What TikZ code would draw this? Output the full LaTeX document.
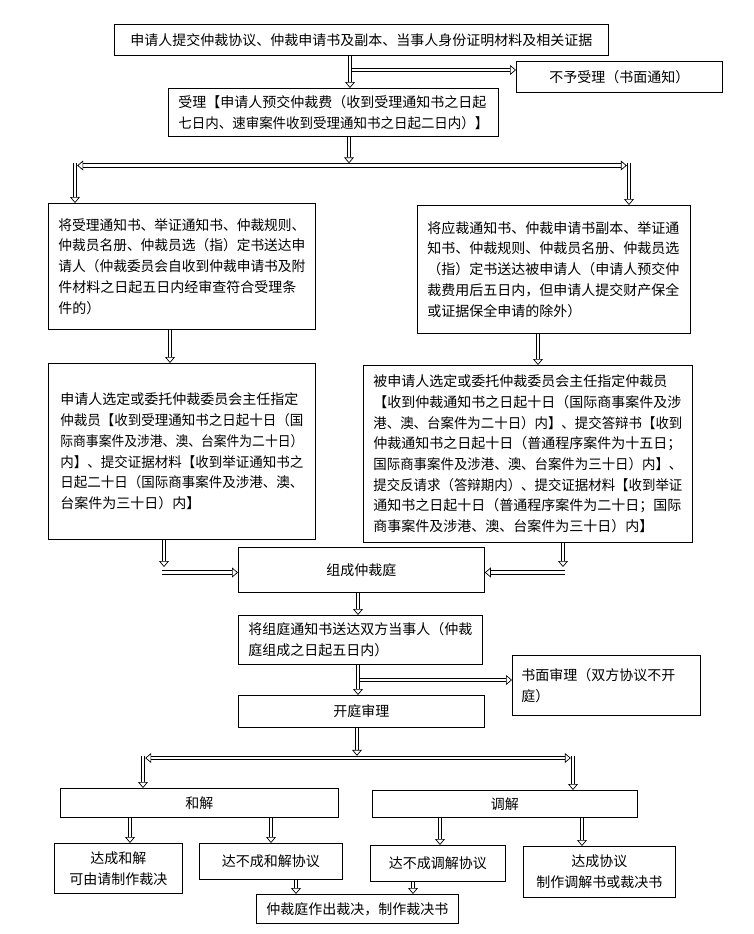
\documentclass[tikz,border=0pt]{standalone}
\usepackage{fontspec}
\usepackage{graphicx}
\newfontfamily\cjk{Noto Sans CJK SC}
\usetikzlibrary{arrows.meta}
\newcommand\fitw[2]{\sbox0{#2}\ifdim\wd0>#1\relax\resizebox{#1}{\height}{#2}\else\usebox0\fi}
\begin{document}
\begin{tikzpicture}[x=1pt,y=-1pt,
 bx/.style={draw, line width=0.8pt, anchor=north west, inner sep=0pt, font=\cjk\fontsize{14}{20.7}\selectfont},
 tipo/.tip={Triangle[open, length=6pt, width=10pt, line width=0.7pt, fill=white]},
 arr/.style={double, double distance=2.8pt, line width=0.7pt, -{tipo}},
 darr/.style={double, double distance=2.8pt, line width=0.7pt, {tipo}-{tipo}}]
\useasboundingbox[fill=white] (0,0) rectangle (754,934);

\node[bx, minimum width=494pt, minimum height=31pt] (top) at (114,24) {申请人提交仲裁协议、仲裁申请书及副本、当事人身份证明材料及相关证据};
\node[bx, minimum width=206pt, minimum height=31pt] (nope) at (516,61) {不予受理（书面通知）};
\node[bx, minimum width=330pt, minimum height=48pt, text width=310pt, align=left] (shouli) at (168,88)
 {\fitw{310pt}{受理【申请人预交仲裁费（收到受理通知书之日起}\\\fitw{310pt}{七日内、速审案件收到受理通知书之日起二日内）】}};
\node[bx, minimum width=267pt, minimum height=126pt, text width=247pt, align=left] (box3) at (48,203)
 {\fitw{247pt}{将受理通知书、举证通知书、仲裁规则、}\\\fitw{247pt}{仲裁员名册、仲裁员选（指）定书送达申}\\\fitw{247pt}{请人（仲裁委员会自收到仲裁申请书及附}\\\fitw{247pt}{件材料之日起五日内经审查符合受理条}\\件的）};
\node[bx, minimum width=273pt, minimum height=128pt, text width=253pt, align=left] (box4) at (417,205)
 {\fitw{253pt}{将应裁通知书、仲裁申请书副本、举证通}\\\fitw{253pt}{知书、仲裁规则、仲裁员名册、仲裁员选}\\\fitw{253pt}{（指）定书送达被申请人（申请人预交仲}\\\fitw{253pt}{裁费用后五日内，但申请人提交财产保全}\\或证据保全申请的除外）};
\node[bx, minimum width=267pt, minimum height=176pt, text width=243pt, align=left] (box5) at (48,363)
 {\fitw{243pt}{申请人选定或委托仲裁委员会主任指定}\\\fitw{243pt}{仲裁员【收到受理通知书之日起十日（国}\\\fitw{243pt}{际商事案件及涉港、澳、台案件为二十日）}\\\fitw{243pt}{内】、提交证据材料【收到举证通知书之}\\\fitw{243pt}{日起二十日（国际商事案件及涉港、澳、}\\台案件为三十日）内】};
\node[bx, minimum width=329pt, minimum height=177pt, text width=309pt, align=left] (box6) at (363,365)
 {\fitw{309pt}{被申请人选定或委托仲裁委员会主任指定仲裁员}\\\fitw{309pt}{【收到仲裁通知书之日起十日（国际商事案件及涉}\\\fitw{309pt}{港、澳、台案件为二十日）内】、提交答辩书【收到}\\\fitw{309pt}{仲裁通知书之日起十日（普通程序案件为十五日；}\\\fitw{309pt}{国际商事案件及涉港、澳、台案件为三十日）内】、}\\\fitw{309pt}{提交反请求（答辩期内）、提交证据材料【收到举证}\\\fitw{309pt}{通知书之日起十日（普通程序案件为二十日；国际}\\\fitw{309pt}{商事案件及涉港、澳、台案件为三十日）内】}};
\node[bx, minimum width=246pt, minimum height=45pt] (zucheng) at (238,547) {组成仲裁庭};
\node[bx, minimum width=244pt, minimum height=49pt, text width=224pt, align=left] (tongzhi) at (238,615)
 {\fitw{224pt}{将组庭通知书送达双方当事人（仲裁}\\庭组成之日起五日内）};
\node[bx, minimum width=188pt, minimum height=60pt, text width=170pt, align=left] (shumian) at (512,655)
 {书面审理（双方协议不开\\庭）};
\node[bx, minimum width=246pt, minimum height=32pt] (kaiting) at (238,695) {开庭审理};
\node[bx, minimum width=278pt, minimum height=29pt] (hejie) at (60,788) {和解};
\node[bx, minimum width=265pt, minimum height=27pt] (tiaojie) at (372,790) {调解};
\node[bx, minimum width=128pt, minimum height=50pt, align=center] (b14) at (54,843) {达成和解\\可由请制作裁决};
\node[bx, minimum width=143pt, minimum height=36pt] (b15) at (199,843) {达不成和解协议};
\node[bx, minimum width=135pt, minimum height=36pt] (b16) at (370,845) {达不成调解协议};
\node[bx, minimum width=152pt, minimum height=51pt, align=center] (b17) at (523,846) {达成协议\\制作调解书或裁决书};
\node[bx, minimum width=202pt, minimum height=29pt] (final) at (256,894) {仲裁庭作出裁决，制作裁决书};

\coordinate (a1) at (350,0);
\draw[arr] (top.south -| a1) -- (shouli.north -| a1);
\coordinate (a2) at (352,70);
\draw[arr] (a2) -- (a2 -| nope.west);
\coordinate (a3) at (349,163.3);
\draw[arr] (shouli.south -| a3) -- (a3);
\coordinate (hL) at (77.2,165.5); \coordinate (hR) at (626.8,165.5);
\draw[darr] (hL) -- (hR);
\coordinate (vL) at (75,163); \coordinate (vR) at (629,163);
\draw[arr] (vL) -- (box3.north -| vL);
\draw[arr] (vR) -- (box4.north -| vR);
\coordinate (a4) at (170,0); \draw[arr] (box3.south -| a4) -- (box5.north -| a4);
\coordinate (a5) at (538,0); \draw[arr] (box4.south -| a5) -- (box6.north -| a5);
\coordinate (a6) at (164,567); \draw[arr] (box5.south -| a6) -- (a6);
\coordinate (a7) at (162,572.5); \draw[arr] (a7) -- (a7 -| zucheng.west);
\coordinate (a8) at (563,567); \draw[arr] (box6.south -| a8) -- (a8);
\coordinate (a9) at (565,572.5); \draw[arr] (a9) -- (a9 -| zucheng.east);
\coordinate (b1) at (358,0);
\draw[arr] (zucheng.south -| b1) -- (tongzhi.north -| b1);
\draw[arr] (tongzhi.south -| b1) -- (kaiting.north -| b1);
\coordinate (b2) at (360,680); \draw[arr] (b2) -- (b2 -| shumian.west);
\coordinate (b3) at (357,755.8); \draw[arr] (kaiting.south -| b3) -- (b3);
\coordinate (gL) at (145.2,758); \coordinate (gR) at (570.8,758); \draw[darr] (gL) -- (gR);
\coordinate (wL) at (143,755.5); \coordinate (wR) at (573,755.5);
\draw[arr] (wL) -- (hejie.north -| wL);
\draw[arr] (wR) -- (tiaojie.north -| wR);
\coordinate (c1) at (130,0); \draw[arr] (hejie.south -| c1) -- (b14.north -| c1);
\coordinate (c2) at (271,0); \draw[arr] (hejie.south -| c2) -- (b15.north -| c2);
\coordinate (c3) at (440,0); \draw[arr] (tiaojie.south -| c3) -- (b16.north -| c3);
\coordinate (c4) at (582,0); \draw[arr] (tiaojie.south -| c4) -- (b17.north -| c4);
\coordinate (c5) at (296,0); \draw[arr] (b15.south -| c5) -- (final.north -| c5);
\coordinate (c6) at (413,0); \draw[arr] (b16.south -| c6) -- (final.north -| c6);
\end{tikzpicture}
\end{document}
